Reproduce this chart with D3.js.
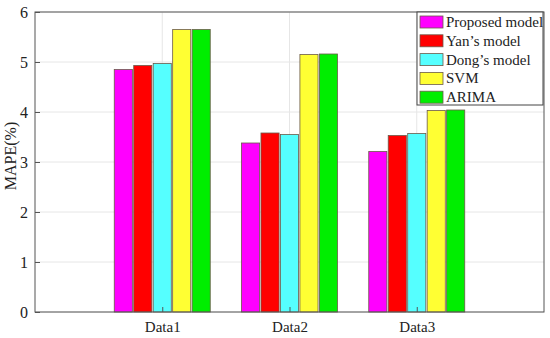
<!DOCTYPE html>
<html><head><meta charset="utf-8">
<script src="https://cdn.jsdelivr.net/npm/d3@7"></script>
<style>body{margin:0;background:#fff}svg{display:block}text{font-family:"Liberation Serif","Times New Roman",serif;fill:#222}</style>
</head><body><svg id="c" width="550" height="338"></svg>
<script>
const categories = ["Data1", "Data2", "Data3"];
const seriesNames = ["Proposed model", "Yan\u2019s model", "Dong\u2019s model", "SVM", "ARIMA"];
const proposed = [4.85, 3.38, 3.21];
const yan = [4.93, 3.58, 3.53];
const dong = [4.97, 3.55, 3.57];
const svm = [5.65, 5.15, 4.03];
const arima = [5.65, 5.16, 4.04];
const yTicks = [0, 1, 2, 3, 4, 5, 6];
const colors = ["#ff00ff", "#ff0000", "#55ffff", "#ffff33", "#00ee00"];

const series = [proposed, yan, dong, svm, arima];
const svg = d3.select("#c");
const L = 35, R = 544, T = 12, B = 312;

const x = d3.scaleLinear().domain([0, 4]).range([L, R]);
const y = d3.scaleLinear().domain([0, 6]).range([B, T]);
const step = x(1) - x(0);
const slot = step * 0.153;
const bw = slot * 0.93;

// grid
svg.append("g").selectAll("line.h").data(yTicks).join("line")
  .attr("x1", L).attr("x2", R).attr("y1", d => y(d)).attr("y2", d => y(d))
  .attr("stroke", "#e6e6e6").attr("stroke-width", 1);
svg.append("g").selectAll("line.v").data(categories).join("line")
  .attr("x1", (d, i) => x(i + 1)).attr("x2", (d, i) => x(i + 1)).attr("y1", T).attr("y2", B)
  .attr("stroke", "#e6e6e6").attr("stroke-width", 1);

// bars
series.forEach((vals, s) => {
  svg.append("g").selectAll("rect").data(vals).join("rect")
    .attr("x", (d, i) => x(i + 1) + (s - 2) * slot - bw / 2)
    .attr("y", d => y(d))
    .attr("width", bw)
    .attr("height", d => B - y(d))
    .attr("fill", colors[s])
    .attr("stroke", "#6b5a4a").attr("stroke-width", 0.8);
});

// axes
const yAxis = d3.axisLeft(y).tickValues(yTicks).tickSize(-5).tickPadding(7).tickFormat(d3.format("d"));
const gy = svg.append("g").attr("transform", `translate(${L},0)`).call(yAxis);
gy.select(".domain").remove();
gy.selectAll("line").attr("stroke", "#555");
gy.selectAll("text").attr("font-size", 16).style("font-family", '"Liberation Serif",serif').attr("fill", "#222");

const xAxis = d3.axisBottom(x).tickValues([1, 2, 3]).tickFormat((d) => categories[d - 1]).tickSize(-5).tickPadding(9);
const gx = svg.append("g").attr("transform", `translate(0,${B})`).call(xAxis);
gx.select(".domain").remove();
gx.selectAll("line").attr("stroke", "#555");
gx.selectAll("text").attr("font-size", 15).style("font-family", '"Liberation Serif",serif').attr("fill", "#222");

// box
svg.append("rect").attr("x", L).attr("y", T).attr("width", R - L).attr("height", B - T)
  .attr("fill", "none").attr("stroke", "#555").attr("stroke-width", 1);

// y label
svg.append("text").attr("transform", `translate(16,${(T + B) / 2 - 6}) rotate(-90)`)
  .attr("text-anchor", "middle").attr("font-size", 16).text("MAPE(%)");

// legend
const lg = svg.append("g");
lg.append("rect").attr("x", 417).attr("y", 12).attr("width", 126).attr("height", 93)
  .attr("fill", "#fff").attr("stroke", "#444").attr("stroke-width", 1);
seriesNames.forEach((n, i) => {
  const cy = 22 + i * 18.8;
  lg.append("rect").attr("x", 420).attr("y", cy - 6).attr("width", 23).attr("height", 12)
    .attr("fill", colors[i]).attr("stroke", "#6b5a4a").attr("stroke-width", 0.8);
  lg.append("text").attr("x", 446).attr("y", cy + 5).attr("font-size", 15).text(n);
});
</script></body></html>
